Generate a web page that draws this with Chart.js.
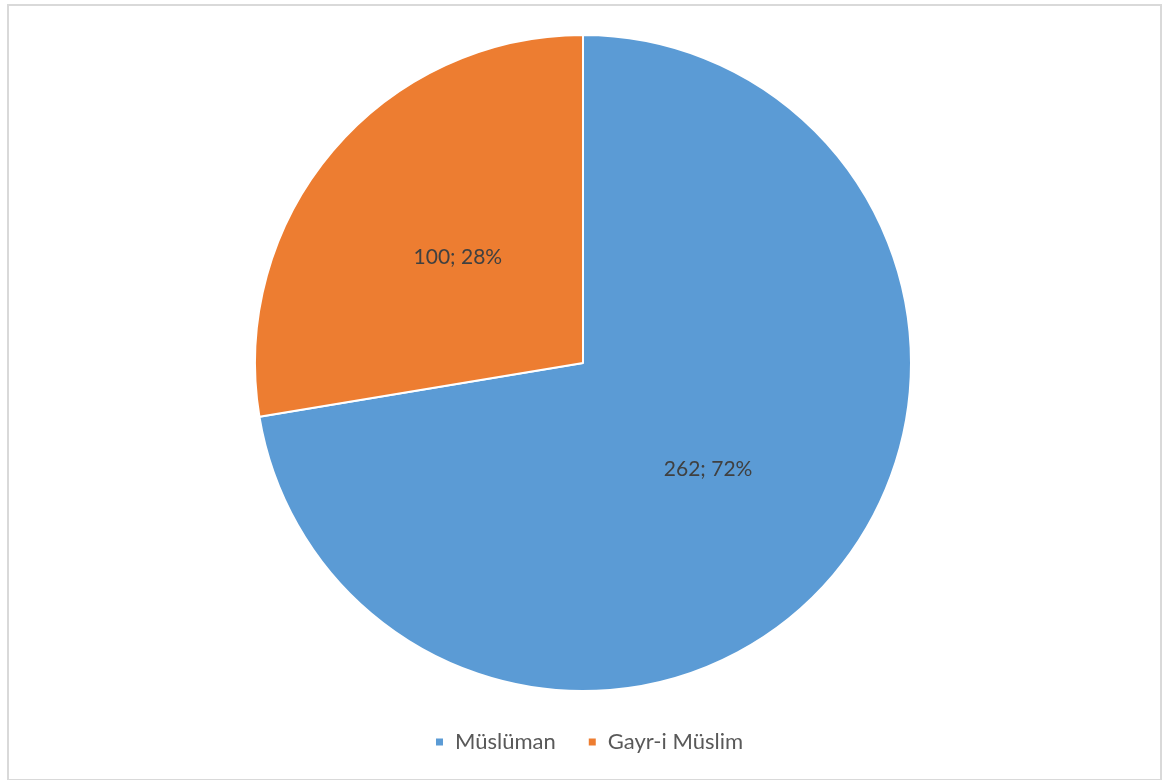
<!DOCTYPE html>
<html>
<head>
<meta charset="utf-8">
<script src="https://cdn.jsdelivr.net/npm/chart.js@4"></script>
<style>
	html, body { margin: 0; padding: 0; background: #fff; }
	#frame {
		position: absolute; left: 7px; top: 4px;
		width: 1151px; height: 773px;
		border: 2px solid #d9d9d9;
	}
	#wrap { position: absolute; left: 0; top: 0; width: 1166px; height: 780px; }
</style>
</head>
<body>
<div id="frame"></div>
<div id="wrap"><canvas id="myChart"></canvas></div>
<script>
// DATA FROM THE PICTURE
const labels = ["Müslüman", "Gayr-i Müslim"];
const values = [262, 100];
const colors = ["#5B9BD5", "#ED7D31"];

// DRAW "VALUE; PERCENT" IN THE MIDDLE OF EACH SLICE
const sliceLabels = {
	id: "sliceLabels",
	afterDatasetsDraw(chart) {
		const ctx = chart.ctx;
		const meta = chart.getDatasetMeta(0);
		const total = values.reduce((a, b) => a + b, 0);
		ctx.save();
		ctx.font = "21px Lato";
		ctx.fillStyle = "#404040";
		ctx.textAlign = "center";
		ctx.textBaseline = "middle";
		meta.data.forEach((arc, i) => {
			const p = arc.getCenterPoint();
			const pct = Math.round(values[i] / total * 100);
			ctx.fillText(values[i] + "; " + pct + "%", p.x, p.y);
		});
		ctx.restore();
	}
};

// MAKE A BIT MORE ROOM ABOVE THE LEGEND AND NUDGE IT DOWN
const legendGap = {
	id: "legendGap",
	beforeInit(chart) {
		const legend = chart.legend;
		const fit = legend.fit;
		legend.fit = function () {
			fit.call(legend);
			this.height += 8;
		};
		const draw = legend.draw;
		legend.draw = function () {
			chart.ctx.save();
			chart.ctx.translate(6, 7);
			draw.call(legend);
			chart.ctx.restore();
		};
	}
};

const ctx = document.getElementById("myChart").getContext("2d");
const myChart = new Chart(ctx, {
	type: "pie",
	data: {
		labels: labels,
		datasets: [{
			data: values,
			backgroundColor: colors,
			borderColor: "#ffffff",
			borderWidth: 2,
		}],
	},
	options: {
		responsive: true,
		maintainAspectRatio: false,
		animation: false,
		layout: { padding: { top: 34, bottom: 16 } },
		plugins: {
			tooltip: { enabled: false },
			legend: {
				position: "bottom",
				labels: {
					boxWidth: 9,
					boxHeight: 9,
					padding: 32,
					color: "#595959",
					font: { family: "Lato", size: 22 },
				},
			},
		},
	},
	plugins: [sliceLabels, legendGap],
});
</script>
</body>
</html>
